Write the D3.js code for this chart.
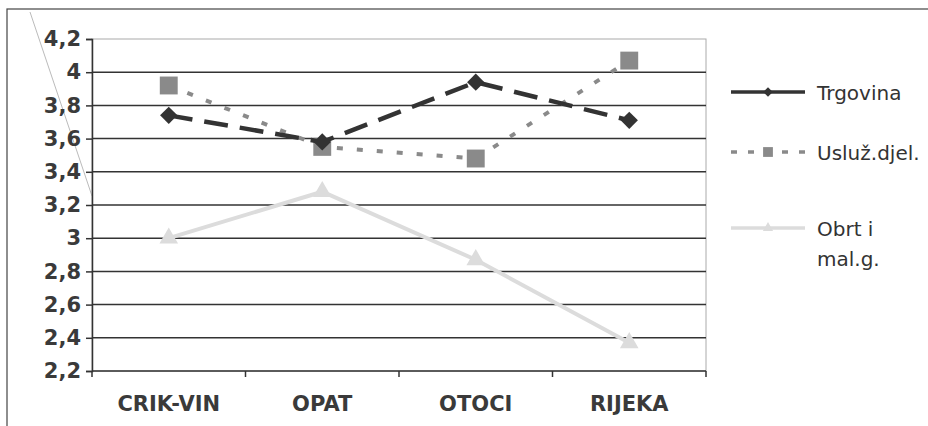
<!DOCTYPE html>
<html>
<head>
<meta charset="utf-8">
<script src="https://cdn.jsdelivr.net/npm/d3@7"></script>
<style>
  body { margin: 0; background: #fff; }
  svg { display: block; }
</style>
</head>
<body>
<script>
// chart data
var categories = ['CRIK-VIN', 'OPAT', 'OTOCI', 'RIJEKA'];
var trgovina = [3.74, 3.58, 3.94, 3.71];
var usluz = [3.92, 3.55, 3.48, 4.07];
var obrt = [3.0, 3.28, 2.87, 2.37];
var yTicks = [2.2, 2.4, 2.6, 2.8, 3, 3.2, 3.4, 3.6, 3.8, 4, 4.2];
var seriesNames = ['Trgovina', 'Usluž.djel.', 'Obrt i mal.g.'];

var W = 928, H = 426;
var plot = { left: 92, top: 39, right: 706, bottom: 371 };

var svg = d3.select('body').append('svg')
    .attr('width', W)
    .attr('height', H);

// outer frame (only left and top visible)
svg.append('rect')
    .attr('x', 7).attr('y', 9)
    .attr('width', 960).attr('height', 460)
    .attr('fill', 'none')
    .attr('stroke', '#444')
    .attr('stroke-width', 1.2);

// faint diagonal stroke on the scan
svg.append('line')
    .attr('x1', 30).attr('y1', 12)
    .attr('x2', 92).attr('y2', 196)
    .attr('stroke', '#bbb')
    .attr('stroke-width', 1);

var x = d3.scaleBand().domain(categories).range([plot.left, plot.right]);
var y = d3.scaleLinear().domain([2.2, 4.2]).range([plot.bottom, plot.top]);

// plot area border
svg.append('rect')
    .attr('x', plot.left).attr('y', plot.top)
    .attr('width', plot.right - plot.left).attr('height', plot.bottom - plot.top)
    .attr('fill', 'none')
    .attr('stroke', '#aaa')
    .attr('stroke-width', 1);

// gridlines
svg.append('g').selectAll('line')
    .data(yTicks.slice(1, -1))
    .enter().append('line')
    .attr('x1', plot.left).attr('x2', plot.right)
    .attr('y1', function (d) { return y(d); })
    .attr('y2', function (d) { return y(d); })
    .attr('stroke', '#333')
    .attr('stroke-width', 1.5);

// y axis
var yAxis = svg.append('g')
    .attr('transform', 'translate(' + plot.left + ',0)')
    .call(d3.axisLeft(y).tickValues(yTicks).tickSize(6).tickPadding(5)
        .tickFormat(function (d) { return String(d).replace('.', ','); }));
yAxis.select('.domain').attr('stroke', '#333').attr('stroke-width', 1.5);
yAxis.selectAll('.tick line').attr('stroke', '#333').attr('stroke-width', 1.5);
yAxis.selectAll('.tick text')
    .attr('fill', '#3a3a3a')
    .style('font-family', 'DejaVu Sans')
    .style('font-weight', 'bold')
    .style('font-size', '21px');

// x axis, ticks at band edges
var xAxis = svg.append('g')
    .attr('transform', 'translate(0,' + plot.bottom + ')');
xAxis.append('line')
    .attr('x1', plot.left).attr('x2', plot.right)
    .attr('stroke', '#333').attr('stroke-width', 1.5);
var edges = categories.map(function (c) { return x(c); }).concat([plot.right]);
xAxis.selectAll('.edge')
    .data(edges)
    .enter().append('line')
    .attr('class', 'edge')
    .attr('x1', function (d) { return d; }).attr('x2', function (d) { return d; })
    .attr('y1', 0).attr('y2', 6)
    .attr('stroke', '#333').attr('stroke-width', 1.5);
xAxis.selectAll('text')
    .data(categories)
    .enter().append('text')
    .attr('x', function (d) { return x(d) + x.bandwidth() / 2; })
    .attr('y', 40)
    .attr('text-anchor', 'middle')
    .attr('fill', '#3a3a3a')
    .style('font-family', 'DejaVu Sans')
    .style('font-weight', 'bold')
    .style('font-size', '21px')
    .text(function (d) { return d; });

var cx = function (d, i) { return x(categories[i]) + x.bandwidth() / 2; };

// diamond = square turned 45 degrees
var series = [
    { values: obrt, color: '#dcdcdc', dash: null, width: 4, symbol: d3.symbolTriangle, size: 150, rot: 0 },
    { values: usluz, color: '#8a8a8a', dash: '6,14', width: 4, symbol: d3.symbolSquare, size: 320, rot: 0 },
    { values: trgovina, color: '#333', dash: '24,12', width: 4.5, symbol: d3.symbolSquare, size: 150, rot: 45 }
];

var line = d3.line()
    .x(cx)
    .y(function (d) { return y(d); });

series.forEach(function (s) {
    svg.append('path')
        .datum(s.values)
        .attr('d', line)
        .attr('fill', 'none')
        .attr('stroke', s.color)
        .attr('stroke-width', s.width)
        .attr('stroke-dasharray', s.dash);
    svg.append('g').selectAll('path')
        .data(s.values)
        .enter().append('path')
        .attr('d', d3.symbol().type(s.symbol).size(s.size))
        .attr('transform', function (d, i) {
            return 'translate(' + cx(d, i) + ',' + y(d) + ') rotate(' + s.rot + ')';
        })
        .attr('fill', s.color);
});

// legend
var legendItems = [
    { name: seriesNames[0], s: series[2], y: 92, lines: ['Trgovina'], dash: null },
    { name: seriesNames[1], s: series[1], y: 152, lines: ['Usluž.djel.'], dash: '6,11' },
    { name: seriesNames[2], s: series[0], y: 228, lines: ['Obrt i', 'mal.g.'], dash: null }
];
var lg = svg.append('g');
legendItems.forEach(function (it) {
    lg.append('line')
        .attr('x1', 731).attr('x2', 805)
        .attr('y1', it.y).attr('y2', it.y)
        .attr('stroke', it.s.color)
        .attr('stroke-width', 3.5)
        .attr('stroke-dasharray', it.dash);
    lg.append('path')
        .attr('d', d3.symbol().type(it.s.symbol).size(it.s.size * 0.3))
        .attr('transform', 'translate(768,' + it.y + ') rotate(' + it.s.rot + ')')
        .attr('fill', it.s.color);
    var t = lg.append('text')
        .attr('x', 817)
        .attr('y', it.y + 8)
        .attr('fill', '#333')
        .style('font-family', 'DejaVu Sans')
        .style('font-size', '20px');
    it.lines.forEach(function (l, k) {
        t.append('tspan').attr('x', 817).attr('dy', k === 0 ? 0 : 30).text(l);
    });
});
</script>
</body>
</html>
